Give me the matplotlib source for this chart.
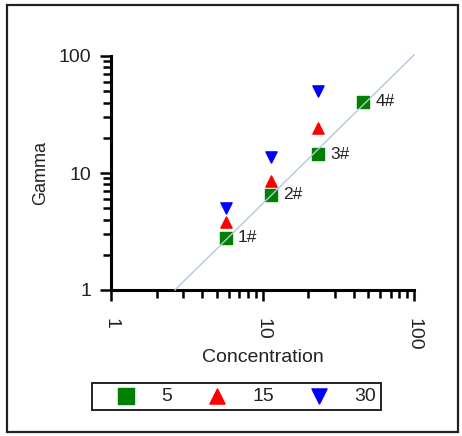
import numpy as np
import matplotlib
matplotlib.use("Agg")
import matplotlib.pyplot as plt
from matplotlib.patches import Rectangle
from matplotlib.ticker import LogLocator, NullFormatter, FixedFormatter, FixedLocator

# sample concentrations and measured gamma values
samples = ["1#", "2#", "3#", "4#"]
conc_5 = [5.7, 11.4, 23.2, 46.0]
gamma_5 = [2.8, 6.5, 14.5, 40.5]
conc_15 = [5.7, 11.4, 23.2]
gamma_15 = [3.8, 8.5, 24.3]
conc_30 = [5.7, 11.4, 23.2]
gamma_30 = [5.0, 13.7, 50.0]
fit_x = [2.64, 100.0]
fit_y = [1.0, 102.0]

major_ticks = [1, 10, 100]
major_labels = ["1", "10", "100"]

plt.rcParams["font.family"] = ["Liberation Sans", "DejaVu Sans"]
text_color = "#222222"

fig = plt.figure(figsize=(4.62, 4.36), dpi=100)
ax = fig.add_axes([111 / 462, 1 - 290 / 436, 303 / 462, 234 / 436])

# outer frame
fig.patches.append(Rectangle((7 / 462, 1 - 432 / 436), 451 / 462, 427 / 436,
                             transform=fig.transFigure, fill=False,
                             edgecolor="#222222", linewidth=1.6))

ax.scatter(conc_5, gamma_5, marker="s", s=80, color="#007f00", label="5", zorder=2)
ax.scatter(conc_15, gamma_15, marker="^", s=65, color="#ff0000", label="15", zorder=2)
ax.scatter(conc_30, gamma_30, marker="v", s=65, color="#0000ff", label="30", zorder=2)
ax.plot(fit_x, fit_y, color="#b3c8e0", linewidth=1.0, zorder=3, clip_on=False)

for name, x, y in zip(samples, conc_5, gamma_5):
    ax.annotate(name, (x, y), xytext=(9, 0), textcoords="offset points",
                ha="left", va="center", fontsize=12.5, color=text_color)

ax.set_xscale("log")
ax.set_yscale("log")
ax.set_xlim(1, 100)
ax.set_ylim(1, 100)

for axis in (ax.xaxis, ax.yaxis):
    axis.set_major_locator(FixedLocator(major_ticks))
    axis.set_major_formatter(FixedFormatter(major_labels))
    axis.set_minor_locator(LogLocator(base=10, subs=np.arange(2, 10)))
    axis.set_minor_formatter(NullFormatter())

ax.tick_params(axis="both", which="major", direction="out", length=8, width=1.8,
               labelsize=14, labelcolor=text_color)
ax.tick_params(axis="both", which="minor", direction="out", length=5.5, width=1.8)
ax.tick_params(axis="x", which="major", pad=12, labelrotation=-90)
ax.tick_params(axis="y", which="major", pad=6)

for side in ["top", "right"]:
    ax.spines[side].set_visible(False)
for side in ["left", "bottom"]:
    ax.spines[side].set_linewidth(2.2)

ax.set_xlabel("Concentration", fontsize=14, color=text_color)
ax.set_ylabel("Gamma", fontsize=13, color=text_color)
ax.xaxis.set_label_coords(0.5, -0.25)
ax.yaxis.set_label_coords(-0.205, 0.5)

leg = ax.legend(ncol=3, loc="center", mode="expand",
                bbox_to_anchor=(92 / 462, 1 - 410 / 436, 289 / 462, 27 / 436),
                bbox_transform=fig.transFigure, fontsize=14, markerscale=1.35,
                handlelength=3.0, handletextpad=0.3, borderpad=0.25,
                fancybox=False, framealpha=1, edgecolor="#222222",
                borderaxespad=0)
leg.get_frame().set_linewidth(1.4)
for t in leg.get_texts():
    t.set_color(text_color)

fig.savefig("out.png", dpi=100)
